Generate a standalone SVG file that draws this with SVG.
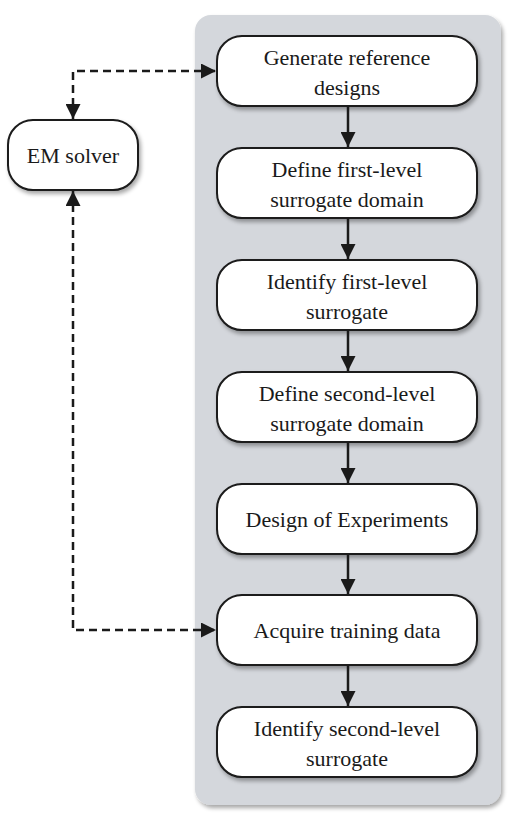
<svg xmlns="http://www.w3.org/2000/svg" width="520" height="824" viewBox="0 0 520 824">
<defs>
<filter id="sh" x="-10%" y="-10%" width="130%" height="130%">
<feGaussianBlur in="SourceAlpha" stdDeviation="2"/>
<feOffset dx="2" dy="3" result="b"/>
<feComponentTransfer><feFuncA type="linear" slope="0.35"/></feComponentTransfer>
<feMerge><feMergeNode/><feMergeNode in="SourceGraphic"/></feMerge>
</filter>
<marker id="ah" viewBox="0 0 10 10" refX="10" refY="5" markerWidth="6" markerHeight="6" markerUnits="strokeWidth" orient="auto">
<path d="M0,0 L10,5 L0,10 z" fill="#1a1a1a"/>
</marker>
<marker id="ahs" viewBox="0 0 10 10" refX="10" refY="5" markerWidth="6" markerHeight="6" markerUnits="strokeWidth" orient="auto-start-reverse">
<path d="M0,0 L10,5 L0,10 z" fill="#1a1a1a"/>
</marker>
</defs>
<style>
.box{fill:#fff;stroke:#1a1a1a;stroke-width:2}
.t{font-size:22px;fill:#1a1a1a;text-anchor:middle}
.c{fill:none;stroke:#1a1a1a;stroke-width:2.5}
.d{fill:none;stroke:#1a1a1a;stroke-width:2.5;stroke-dasharray:8,5}
</style>
<rect x="195" y="15" width="306" height="790" rx="16" fill="#d4d7dc" filter="url(#sh)"/>
<g font-family="Liberation Serif, DejaVu Serif, Times New Roman, serif">
<g id="em"><rect class="box" x="8" y="120" width="130" height="70" rx="25" filter="url(#sh)"/><text class="t" x="73" y="163">EM solver</text></g>
<g id="n1"><rect class="box" x="217" y="36" width="260" height="70" rx="25" filter="url(#sh)"/><text class="t" x="347" y="65">Generate reference</text><text class="t" x="347" y="95">designs</text></g>
<g id="n2"><rect class="box" x="217" y="148" width="260" height="70" rx="25" filter="url(#sh)"/><text class="t" x="347" y="177">Define first-level</text><text class="t" x="347" y="207">surrogate domain</text></g>
<g id="n3"><rect class="box" x="217" y="260" width="260" height="70" rx="25" filter="url(#sh)"/><text class="t" x="347" y="289">Identify first-level</text><text class="t" x="347" y="319">surrogate</text></g>
<g id="n4"><rect class="box" x="217" y="372" width="260" height="70" rx="25" filter="url(#sh)"/><text class="t" x="347" y="401">Define second-level</text><text class="t" x="347" y="431">surrogate domain</text></g>
<g id="n5"><rect class="box" x="217" y="484" width="260" height="70" rx="25" filter="url(#sh)"/><text class="t" x="347" y="527">Design of Experiments</text></g>
<g id="n6"><rect class="box" x="217" y="595" width="260" height="70" rx="25" filter="url(#sh)"/><text class="t" x="347" y="638">Acquire training data</text></g>
<g id="n7"><rect class="box" x="217" y="707" width="260" height="70" rx="25" filter="url(#sh)"/><text class="t" x="347" y="736">Identify second-level</text><text class="t" x="347" y="766">surrogate</text></g>
</g>
<g id="connectors">
<path class="c" d="M348,106 V147" marker-end="url(#ah)"/>
<path class="c" d="M348,218 V259" marker-end="url(#ah)"/>
<path class="c" d="M348,330 V371" marker-end="url(#ah)"/>
<path class="c" d="M348,442 V483" marker-end="url(#ah)"/>
<path class="c" d="M348,554 V594" marker-end="url(#ah)"/>
<path class="c" d="M348,665 V706" marker-end="url(#ah)"/>
<path class="d" d="M73,119 V71 H216" marker-start="url(#ahs)" marker-end="url(#ah)"/>
<path class="d" d="M73,191 V630 H216" marker-start="url(#ahs)" marker-end="url(#ah)"/>
</g>
</svg>
